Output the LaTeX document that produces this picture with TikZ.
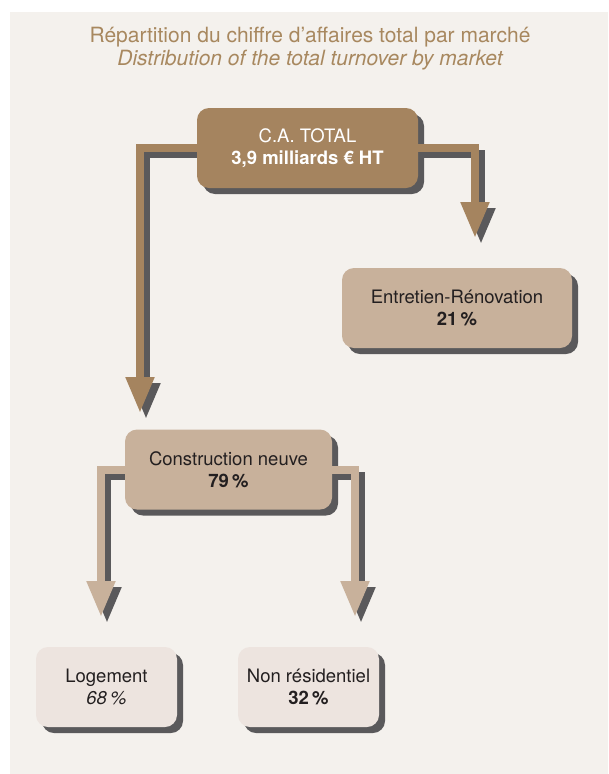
\documentclass[tikz,border=0pt]{standalone}
\usepackage{fontspec}
\setmainfont{TeX Gyre Heros}
\usepackage{xcolor}
\usetikzlibrary{arrows.meta, backgrounds, positioning}
\definecolor{PanelBg}{HTML}{F4F1ED}
\definecolor{TotalBrown}{HTML}{A5845F}
\definecolor{MarketTan}{HTML}{C8B19B}
\definecolor{SegmentPale}{HTML}{EDE4DF}
\definecolor{ShadowGrey}{HTML}{5A595B}
\definecolor{TitleBrown}{HTML}{A8885F}
\definecolor{TextDark}{HTML}{231F20}
\pgfdeclarelayer{links}
\pgfsetlayers{background,links,main}

\begin{document}
\begin{tikzpicture}[x=1pt, y=1pt]
        \tikzset{
            split_box/.style={rectangle, rounded corners=12pt, inner sep=0pt, minimum height=80pt, align=center, text=TextDark,
                font=\fontsize{18.5}{22}\selectfont,
                preaction={fill=ShadowGrey, transform canvas={shift={(6pt,-6pt)}}}},
            title_text/.style={text=TitleBrown, font=\fontsize{21}{23}\selectfont},
            split_arrow/.style={line width=8pt, -{Triangle[length=36pt, width=27pt]}},
            arrow_shadow/.style={split_arrow, ShadowGrey, transform canvas={shift={(6pt,-6pt)}}}
        }
        \useasboundingbox (0,0) rectangle (608,-774);
        \begin{pgfonlayer}{background}
            \fill[PanelBg] (10,-12) rectangle (608,-774);
        \end{pgfonlayer}

        \node[title_text] (title) at (310,-37) {Répartition du chiffre d’affaires total par marché};
        \node[title_text, font=\fontsize{21}{23}\selectfont\itshape] (subtitle) at (310,-60) {Distribution of the total turnover by market};

        \node[split_box, fill=TotalBrown, text=white, minimum width=221pt] (total) at (307.5,-148) {C.A. TOTAL\\\textbf{3,9 milliards € HT}};
        \node[split_box, fill=MarketTan, minimum width=230pt] (renov) at (457,-308) {Entretien-Rénovation\\\textbf{21\,\%}};
        \node[split_box, fill=MarketTan, minimum width=207pt] (neuf) at (228.5,-469.5) {Construction neuve\\\textbf{79\,\%}};
        \node[split_box, fill=SegmentPale, minimum width=141pt] (logement) at (106.5,-687) {Logement\\\textit{68\,\%}};
        \node[split_box, fill=SegmentPale, minimum width=141pt] (nonres) at (308.5,-687) {Non résidentiel\\\textbf{32\,\%}};

        % arrow tips above the boxes
        \coordinate (tip_neuf) at (140,-413);
        \coordinate (tip_renov) at (475,-238);
        \coordinate (tip_logement) at (101,-617);
        \coordinate (tip_nonres) at (355,-617);

        % left branches go under the boxes
        \begin{pgfonlayer}{links}
            \draw[arrow_shadow] (total.west) -| (tip_neuf);
            \draw[split_arrow, TotalBrown] (total.west) -| (tip_neuf);
            \draw[arrow_shadow] (neuf.west) -| (tip_logement);
            \draw[split_arrow, MarketTan] (neuf.west) -| (tip_logement);
        \end{pgfonlayer}
        \draw[arrow_shadow] (total.east) -| (tip_renov);
        \draw[split_arrow, TotalBrown] (total.east) -| (tip_renov);
        \draw[arrow_shadow] (neuf.east) -| (tip_nonres);
        \draw[split_arrow, MarketTan] (neuf.east) -| (tip_nonres);

    \end{tikzpicture}
\end{document}
